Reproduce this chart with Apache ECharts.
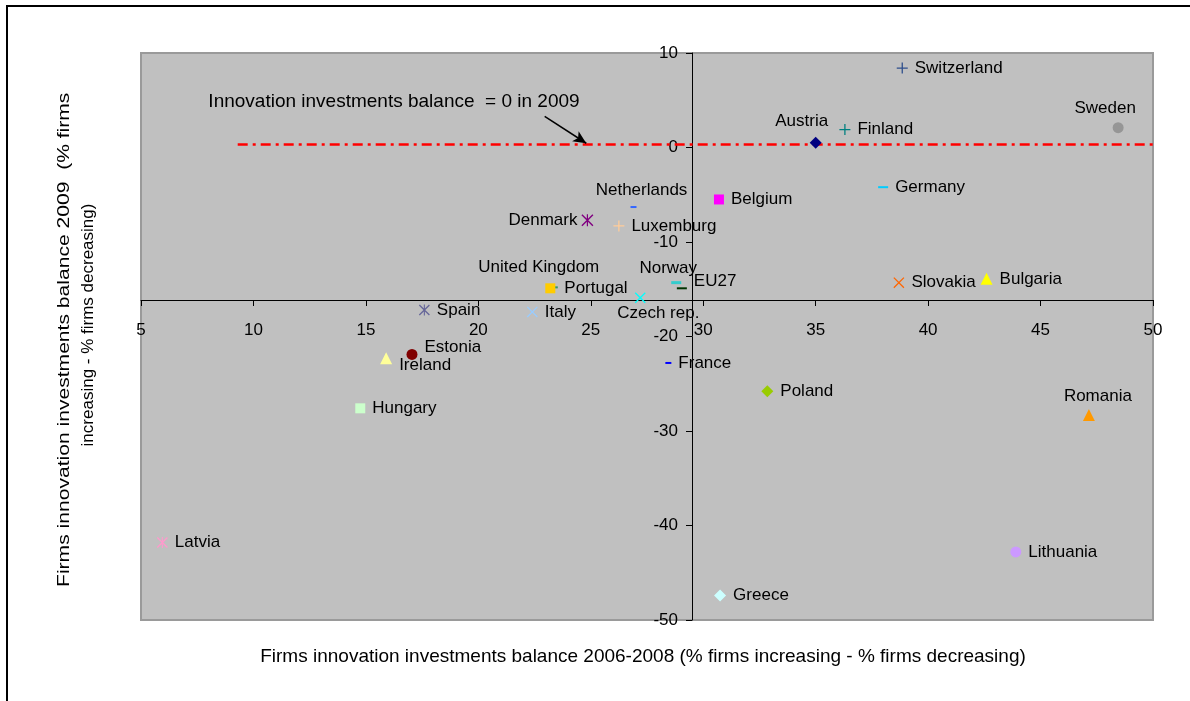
<!DOCTYPE html>
<html>
<head>
<meta charset="utf-8">
<script src="https://cdn.jsdelivr.net/npm/echarts@6/dist/echarts.min.js"></script>
<style>
html, body { margin: 0; padding: 0; background: #ffffff; }
#chart { width: 1190px; height: 701px; }
</style>
</head>
<body>
<div id="chart"></div>
<script>
// innovation investments balance, % firms increasing - % firms decreasing
const countries = [
  'Switzerland', 'Sweden', 'Austria', 'Finland', 'Germany', 'Belgium',
  'Netherlands', 'Denmark', 'Luxemburg', 'United Kingdom', 'Portugal', 'Norway',
  'EU27', 'Czech rep.', 'Italy', 'Spain', 'Estonia', 'Ireland',
  'Hungary', 'Latvia', 'Greece', 'Lithuania', 'France', 'Poland',
  'Romania', 'Slovakia', 'Bulgaria'
]
const balance0608 = [
  38.85, 48.45, 35.0, 36.3, 38.0, 30.7,
  26.9, 24.85, 26.25, 23.4, 23.2, 28.8,
  29.05, 27.2, 22.4, 17.6, 17.05, 15.9,
  14.75, 5.95, 30.75, 43.9, 28.45, 32.85,
  47.15, 38.7, 42.6
]
const balance2009 = [
  8.4, 2.1, 0.5, 1.9, -4.2, -5.5,
  -6.3, -7.7, -8.3, -14.8, -14.9, -14.3,
  -14.9, -15.9, -17.4, -17.2, -21.9, -22.3,
  -27.6, -41.8, -47.4, -42.8, -22.8, -25.8,
  -28.3, -14.3, -13.9
]
const refLineY = 0.3

const FONT = '"Liberation Sans", Arial, sans-serif'

const PLUS = 'M5.3,0h1.4v12h-1.4zM0,5.3h12v1.4h-12z'
const CROSS = 'M0,1L1,0L12,11L11,12ZM11,0L12,1L1,12L0,11Z'
const sym = {
  plus: 'path://' + PLUS,
  cross: 'path://' + CROSS,
  star: 'path://' + CROSS + 'M5.4,0h1.2v12h-1.2z',
  dash: 'path://M0,0h10v2h-10z'
}

const styles = {
  'Switzerland': { symbol: sym.plus, size: 11, color: '#2E4E8C' },
  'Sweden': { symbol: 'circle', size: 11, color: '#969696', pos: 'top', offset: [-13, 2] },
  'Austria': { symbol: 'diamond', size: 12, color: '#000080', pos: 'top', offset: [-14, 0] },
  'Finland': { symbol: sym.plus, size: 11, color: '#008080' },
  'Germany': { symbol: sym.dash, size: [10, 2], color: '#00CCFF' },
  'Belgium': { symbol: 'rect', size: 10, color: '#FF00FF' },
  'Netherlands': { symbol: sym.dash, size: [6, 2], color: '#3366FF', pos: 'top', offset: [8, 0] },
  'Denmark': { symbol: sym.star, size: 12, color: '#800080', pos: 'left', distance: 4 },
  'Luxemburg': { symbol: sym.plus, size: 11, color: '#FFCC99' },
  'United Kingdom': { symbol: sym.dash, size: [6, 2], color: '#339966', pos: 'top', offset: [-16, -7], distance: 4 },
  'Portugal': { symbol: 'rect', size: 10, color: '#FFCC00', offset: [2, 0] },
  'Norway': { symbol: sym.dash, size: [10, 3], color: '#33CCCC', pos: 'top', offset: [-8, 0], distance: 4 },
  'EU27': { symbol: sym.dash, size: [10, 2], color: '#003300', offset: [0, -7] },
  'Czech rep.': { symbol: sym.cross, size: 11, color: '#00FFFF', pos: 'bottom', offset: [18, -2], distance: 4 },
  'Italy': { symbol: sym.cross, size: 11, color: '#99CCFF' },
  'Spain': { symbol: sym.star, size: 11, color: '#666699' },
  'Estonia': { symbol: 'circle', size: 11, color: '#800000', offset: [0, -7] },
  'Ireland': { symbol: 'triangle', size: 12, color: '#FFFF99', offset: [0, 7] },
  'Hungary': { symbol: 'rect', size: 10, color: '#CCFFCC' },
  'Latvia': { symbol: sym.star, size: 11, color: '#FF99CC' },
  'Greece': { symbol: 'diamond', size: 12, color: '#CCFFFF' },
  'Lithuania': { symbol: 'circle', size: 11, color: '#CC99FF' },
  'France': { symbol: sym.dash, size: [6, 2], color: '#0000FF' },
  'Poland': { symbol: 'diamond', size: 12, color: '#99CC00' },
  'Romania': { symbol: 'triangle', size: 12, color: '#FF9900', pos: 'top', offset: [9, 0], distance: 4 },
  'Slovakia': { symbol: sym.cross, size: 11, color: '#FF6600' },
  'Bulgaria': { symbol: 'triangle', size: 12, color: '#FFFF00' }
}

const chart = echarts.init(document.getElementById('chart'))

const pointSeries = countries.map((name, i) => {
  const s = styles[name]
  return {
    type: 'scatter',
    name: name,
    data: [[balance0608[i], balance2009[i]]],
    symbol: s.symbol,
    symbolSize: s.size,
    itemStyle: { color: s.color, opacity: 1 },
    label: {
      show: true,
      formatter: name,
      position: s.pos || 'right',
      distance: s.distance || 7,
      offset: s.offset || [0, 0],
      color: '#000',
      fontSize: 17,
      fontFamily: FONT
    },
    z: 3
  }
})

const option = {
  animation: false,
  backgroundColor: '#ffffff',
  grid: {
    left: 141,
    right: 37,
    top: 53,
    bottom: 81,
    show: true,
    backgroundColor: '#C0C0C0',
    borderColor: '#9A9A9A',
    borderWidth: 2,
    outerBoundsMode: 'none'
  },
  xAxis: {
    type: 'value',
    min: 5,
    max: 50,
    interval: 5,
    position: 'bottom',
    offset: -320,
    axisLine: { onZero: false, lineStyle: { color: '#000', width: 1 } },
    axisTick: { length: 6, lineStyle: { color: '#000' } },
    axisLabel: { margin: 22, color: '#000', fontSize: 17, fontFamily: FONT },
    splitLine: { show: false }
  },
  yAxis: {
    type: 'value',
    min: -50,
    max: 10,
    interval: 10,
    position: 'left',
    offset: -551,
    axisLine: { onZero: false, lineStyle: { color: '#000', width: 1 } },
    axisTick: { length: 6, lineStyle: { color: '#000' } },
    axisLabel: { margin: 14, color: '#000', fontSize: 17, fontFamily: FONT },
    splitLine: { show: false }
  },
  graphic: [
    {
      type: 'rect',
      shape: { x: 7, y: 6, width: 1300, height: 800 },
      style: { fill: 'none', stroke: '#000', lineWidth: 2 },
      silent: true
    },
    {
      type: 'text',
      x: 64,
      y: 587,
      rotation: Math.PI / 2,
      scaleX: 1.24,
      style: {
        text: 'Firms innovation investments balance 2009  (% firms',
        align: 'left',
        verticalAlign: 'middle',
        fill: '#000',
        font: '17px ' + FONT
      },
      silent: true
    },
    {
      type: 'text',
      x: 88,
      y: 325,
      rotation: Math.PI / 2,
      style: {
        text: 'increasing - % firms decreasing)',
        align: 'center',
        verticalAlign: 'middle',
        fill: '#000',
        font: '17px ' + FONT
      },
      silent: true
    },
    {
      type: 'rect',
      shape: { x: 44, y: 20, width: 34, height: 68 },
      style: { fill: '#ffffff' },
      z: 100,
      silent: true
    },
    {
      type: 'text',
      x: 643,
      y: 657,
      style: {
        text: 'Firms innovation investments balance 2006-2008 (% firms increasing - % firms decreasing)',
        align: 'center',
        verticalAlign: 'middle',
        fill: '#000',
        font: '19px ' + FONT
      },
      silent: true
    },
    {
      type: 'text',
      x: 394,
      y: 102,
      style: {
        text: 'Innovation investments balance  = 0 in 2009',
        align: 'center',
        verticalAlign: 'middle',
        fill: '#000',
        font: '19px ' + FONT
      },
      silent: true
    }
  ],
  series: [
    {
      type: 'scatter',
      data: [],
      silent: true,
      markLine: {
        silent: true,
        animation: false,
        label: { show: false },
        data: [
          [
            { coord: [9.3, refLineY], symbol: 'none' },
            { coord: [50, refLineY], symbol: 'none' }
          ],
          [
            { coord: [22.95, 3.3], symbol: 'none', lineStyle: { color: '#000', width: 1.5, type: 'solid' } },
            { coord: [24.8, 0.45], symbol: 'arrow', symbolSize: [9, 13] }
          ]
        ],
        lineStyle: { color: '#FF0000', width: 2.5, type: [10, 5, 3, 5] },
        z: 2
      }
    }
  ].concat(pointSeries)
}

chart.setOption(option)
</script>
</body>
</html>
